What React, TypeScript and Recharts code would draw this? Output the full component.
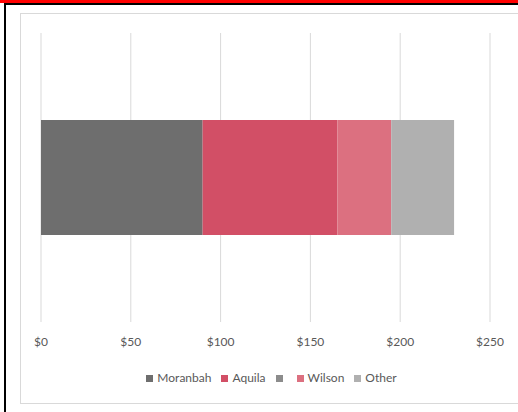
import React from "react";
import { BarChart, Bar, XAxis, YAxis, CartesianGrid, Legend } from "recharts";

const categories = ["Mine"];
const seriesNames = ["Moranbah", "Aquila", "", "Wilson", "Other"];
const seriesKeys = ["moranbah", "aquila", "unnamed", "wilson", "other"];
const moranbah = [90];
const aquila = [75];
const unnamed = [0];
const wilson = [30];
const other = [35];
const tickValues = [0, 50, 100, 150, 200, 250];
const colors = ["#6e6e6e", "#d24f66", "#8c8c8c", "#dc7080", "#b0b0b0"];

const data = categories.map((c, i) => ({
  name: c,
  moranbah: moranbah[i],
  aquila: aquila[i],
  unnamed: unnamed[i],
  wilson: wilson[i],
  other: other[i],
}));

const FONT = "Lato, 'Open Sans', sans-serif";

const LegendContent = () => (
  <div style={{ display: "flex", justifyContent: "center", alignItems: "center", gap: 10, fontFamily: FONT, fontSize: 12, color: "#595959", lineHeight: "14px" }}>
    {seriesKeys.map((k, i) => (
      <div key={k} style={{ display: "flex", alignItems: "center" }}>
        <span style={{ display: "inline-block", width: 7, height: 7, background: colors[i], marginRight: 4 }} />
        <span>{seriesNames[i]}</span>
      </div>
    ))}
  </div>
);

export default function App() {
  return (
    <div style={{ position: "absolute", left: 0, top: 0, width: 518, height: 412, background: "#fff", overflow: "hidden" }}>
      <div style={{ position: "absolute", left: 0, top: 0, width: 518, height: 3, background: "#ff0000" }} />
      <div style={{ position: "absolute", left: 4, top: 3, width: 514, height: 2, background: "#000" }} />
      <div style={{ position: "absolute", left: 4, top: 3, width: 2, height: 409, background: "#000" }} />
      <div style={{ position: "absolute", left: 20, top: 13, width: 510, height: 391, border: "1px solid #d9d9d9", boxSizing: "border-box" }} />
      <div style={{ position: "absolute", left: 0, top: 0 }}>
        <BarChart
          width={518}
          height={412}
          data={data}
          layout="vertical"
          margin={{ top: 33, right: 28, left: 41, bottom: 20 }}
          barCategoryGap={0}
        >
          <CartesianGrid horizontal={false} stroke="#d9d9d9" strokeWidth={1} />
          <XAxis
            type="number"
            domain={[0, 250]}
            ticks={tickValues}
            tickFormatter={(v: number) => `$${v}`}
            axisLine={false}
            tickLine={false}
            height={30}
            tick={{ fill: "#595959", fontSize: 12, fontFamily: FONT }}
            tickMargin={9}
          />
          <YAxis type="category" dataKey="name" hide width={0} />
          <Legend
            verticalAlign="bottom"
            height={40}
            content={<LegendContent />}
            wrapperStyle={{ left: 25, width: 493, top: 371, bottom: "auto" }}
          />
          {seriesKeys.map((k, i) => (
            <Bar key={k} dataKey={k} name={seriesNames[i] || " "} stackId="a" fill={colors[i]} barSize={115} isAnimationActive={false} />
          ))}
        </BarChart>
      </div>
    </div>
  );
}
